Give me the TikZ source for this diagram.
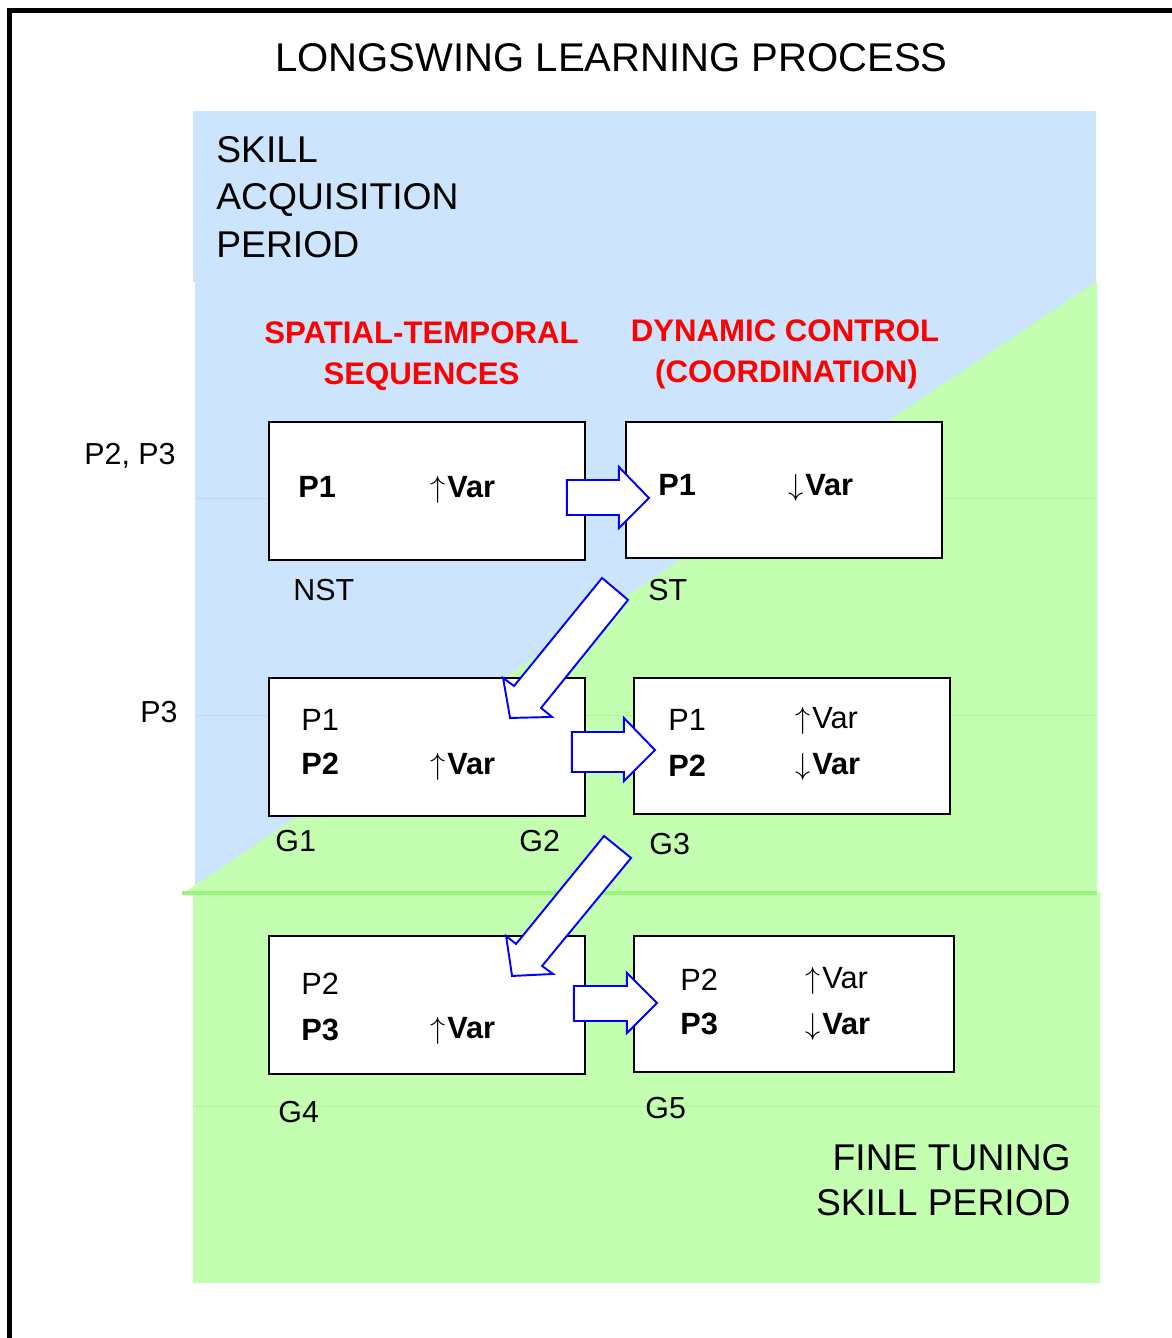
\documentclass[tikz,border=0pt]{standalone}
\usepackage{fontspec}
\setmainfont{Liberation Sans}
\definecolor{skyfill}{RGB}{204,228,252}
\definecolor{grassfill}{RGB}{196,254,176}
\definecolor{skyline}{RGB}{186,216,248}
\definecolor{grassline}{RGB}{152,246,124}
\newcommand\up{$\big\uparrow$\hspace{1pt}}
\newcommand\down{$\big\downarrow$\hspace{1pt}}
\begin{document}
\begin{tikzpicture}[x=0.02cm,y=-0.02cm,
  box/.style={draw,line width=1.1pt,fill=white,minimum width=6.32cm,minimum height=2.76cm,inner sep=0pt},
  flow/.style={draw=blue,line width=1.1pt,fill=white},
  lbl/.style={anchor=base west,font=\fontsize{17.3}{20}\selectfont,inner sep=0pt},
  txt/.style={anchor=base west,font=\fontsize{17.5}{20}\selectfont,inner sep=0pt},
  bld/.style={anchor=base west,font=\fontsize{17.5}{20}\selectfont\bfseries,inner sep=0pt},
  period/.style={font=\fontsize{21.2}{26}\selectfont,inner sep=0pt},
  phase/.style={anchor=base,font=\fontsize{17.75}{20}\selectfont\bfseries,text=red,inner sep=0pt}]
\useasboundingbox (0,0) rectangle (1172,1338);

% background periods
\fill[skyfill] (193,111) rectangle (1096,282);
\fill[skyfill] (195,282) rectangle (1096,893);
\draw[skyline] (195,498) -- (1096,498) (195,715) -- (1096,715);
\fill[grassfill] (1097,281) -- (1097,893) -- (182,894) -- cycle;
\begin{scope}
\clip (1097,281) -- (1097,893) -- (182,894) -- cycle;
\draw[grassline!60!grassfill] (195,498) -- (1097,498) (195,715) -- (1097,715);
\end{scope}
\fill[grassfill] (193,893) rectangle (1100,1283);
\draw[grassline,line width=2pt] (182,893) -- (1097,893);
\draw[grassline!60!grassfill] (193,1106) -- (1100,1106);

% frame
\draw[line width=3.4pt] (9.5,1338) -- (9.5,10.5) -- (1172,10.5);

\node[anchor=base,font=\fontsize{22.8}{27}\selectfont,inner sep=0pt] (title) at (611.5,72) {LONGSWING LEARNING PROCESS};

\node[period,anchor=base west] (acq1) at (216,163) {SKILL};
\node[period,anchor=base west] (acq2) at (216,210) {ACQUISITION};
\node[period,anchor=base west] (acq3) at (216,257) {PERIOD};
\node[period,anchor=base east] (fine1) at (1071,1170) {FINE TUNING};
\node[period,anchor=base east] (fine2) at (1071,1215) {SKILL PERIOD};

\node[phase] (spat1) at (421.5,343) {SPATIAL-TEMPORAL};
\node[phase] (spat2) at (421.5,384) {SEQUENCES};
\node[phase] (dyn1) at (785,341) {DYNAMIC CONTROL};
\node[phase] (dyn2) at (786.5,382) {(COORDINATION)};

% boxes
\node[box] (nst) at (427,491) {};
\node[box,minimum height=2.72cm] (st) at (784,490) {};
\node[box] (g12) at (427,747) {};
\node[box,minimum height=2.72cm] (g3) at (792,746) {};
\node[box] (g4) at (427,1005) {};
\node[box,minimum width=6.4cm,minimum height=2.72cm] (g5) at (794,1004) {};

\node[bld] (nstp) at (298,497) {P1};
\node[bld] (nstv) at (430,497) {\up Var};
\node[bld] (stp) at (658,495) {P1};
\node[bld] (stv) at (788,495) {\down Var};
\node[txt] (g12a) at (301,730) {P1};
\node[bld] (g12b) at (301,774) {P2};
\node[bld] (g12v) at (430,774) {\up Var};
\node[txt] (g3a) at (668,730) {P1};
\node[txt] (g3u) at (795,728) {\up Var};
\node[bld] (g3b) at (668,776) {P2};
\node[bld] (g3v) at (795,774) {\down Var};
\node[txt] (g4a) at (301,994) {P2};
\node[bld] (g4b) at (301,1040) {P3};
\node[bld] (g4v) at (430,1038) {\up Var};
\node[txt] (g5a) at (680,990) {P2};
\node[txt] (g5u) at (805,988) {\up Var};
\node[bld] (g5b) at (680,1034) {P3};
\node[bld] (g5v) at (805,1034) {\down Var};

\node[lbl] (rowa) at (84,464) {P2, P3};
\node[lbl] (rowb) at (140,722) {P3};
\node[lbl] (nstl) at (293,600) {NST};
\node[lbl] (stl) at (648,600) {ST};
\node[lbl] (g1l) at (275,851) {G1};
\node[lbl] (g2l) at (519,851) {G2};
\node[lbl] (g3l) at (649,854) {G3};
\node[lbl] (g4l) at (278,1122) {G4};
\node[lbl] (g5l) at (645,1118) {G5};

% block arrows
\draw[flow,shift={(nst.east)}] (-19,-11) -- (33,-11) -- (33,-24) -- (63,7) -- (33,37) -- (33,24) -- (-19,24) -- cycle;
\draw[flow,shift={(g12.east)}] (-14,-15) -- (38,-15) -- (38,-29) -- (69,3) -- (38,34) -- (38,25) -- (-14,25) -- cycle;
\draw[flow,shift={(g4.east)}] (-12,-19) -- (41,-19) -- (41,-32) -- (71,-2) -- (41,28) -- (41,16) -- (-12,16) -- cycle;
\draw[flow,shift={(st.south west)}] (-23,19) -- (3,41) -- (-84,149) -- (-73,158) -- (-115,159) -- (-122,119) -- (-111,127) -- cycle;
\draw[flow,shift={(g3.south west)}] (-29,21) -- (-2,43) -- (-91,151) -- (-80,159) -- (-121,161) -- (-127,121) -- (-117,129) -- cycle;
\end{tikzpicture}
\end{document}
